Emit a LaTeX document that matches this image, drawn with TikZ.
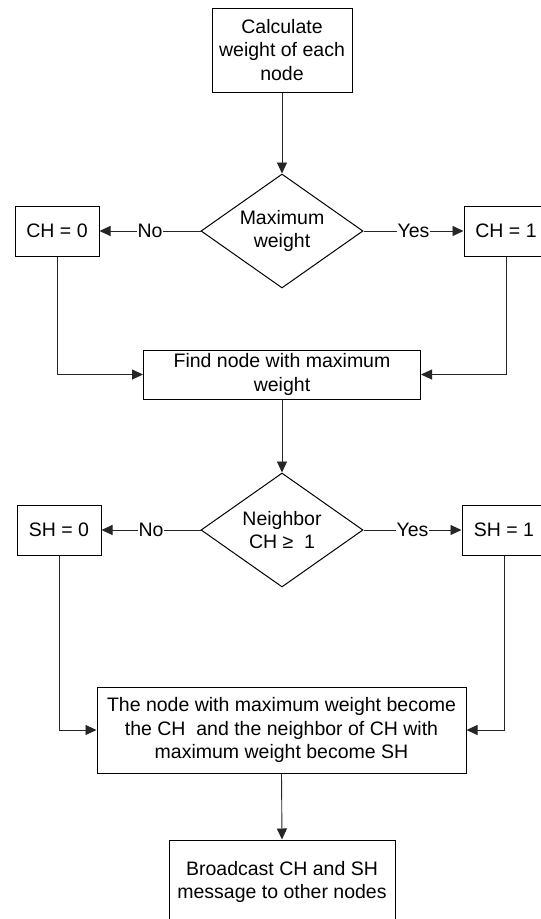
\documentclass[tikz,border=0pt]{standalone}
\usepackage{fontspec}
\setmainfont{Liberation Sans}
\usetikzlibrary{shapes.geometric,arrows.meta}
\begin{document}
\begin{tikzpicture}[x=1pt,y=-1pt,
  every node/.style={font=\fontsize{19.5}{23.2}\selectfont},
  box/.style={draw=black,line width=1pt,inner sep=0pt,align=center},
  dec/.style={draw=black,line width=1pt,diamond,aspect=1.42,inner sep=0pt,
    minimum width=162pt,minimum height=114pt,align=center},
  conn/.style={draw=black!85,line width=0.9pt,-{Triangle[length=11pt,width=10pt]}},
  lab/.style={fill=white,inner sep=1pt}]
\useasboundingbox (0,0) rectangle (541,919);
\clip (0,0) rectangle (541,919);
\fill[white] (0,0) rectangle (541,919);

\node[box,minimum width=140pt,minimum height=84pt] (calc) at (282,50)
  {Calculate\\weight of each\\node};
\node[dec] (max) at (282,231) {Maximum\\weight};
\node[box,minimum width=84pt,minimum height=50pt] (ch0) at (57,231) {CH = 0};
\node[box,minimum width=84pt,minimum height=50pt] (ch1) at (506,231) {CH = 1};
\node[box,minimum width=277pt,minimum height=49pt] (find) at (282,374.5)
  {Find node with maximum\\weight};
\node[dec] (nb) at (282,530) {Neighbor\\CH ≥\ \ 1};
\node[box,minimum width=84pt,minimum height=50pt] (sh0) at (59,530) {SH = 0};
\node[box,minimum width=84pt,minimum height=50pt] (sh1) at (504,530) {SH = 1};
\node[box,minimum width=369pt,minimum height=86pt] (become) at (281.5,730)
  {The node with maximum weight become\\the CH\ \ and the neighbor of CH with\\maximum weight become SH};
\node[box,minimum width=226pt,minimum height=84pt] (bcast) at (282,882)
  {Broadcast CH and SH\\message to other nodes};

\draw[conn] (calc.south) -- (max.north);
\draw[conn] (max.west) -- node[lab]{No} (ch0.east);
\draw[conn] (max.east) -- node[lab]{Yes} (ch1.west);
\draw[conn] (ch0.south) |- (find.west);
\draw[conn] (ch1.south) |- (find.east);
\draw[conn] (find.south) -- (nb.north);
\draw[conn] (nb.west) -- node[lab]{No} (sh0.east);
\draw[conn] (nb.east) -- node[lab]{Yes} (sh1.west);
\draw[conn] (sh0.south) |- (become.west);
\draw[conn] (sh1.south) |- (become.east);
\draw[conn] (become.south) -- (bcast.north);
\end{tikzpicture}
\end{document}
